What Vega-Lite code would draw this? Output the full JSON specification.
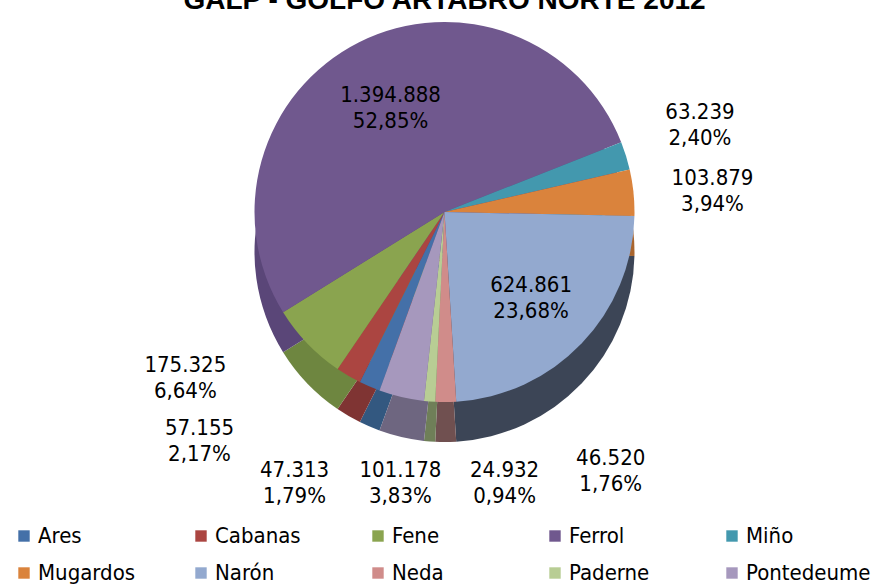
{
  "$schema": "https://vega.github.io/schema/vega-lite/v6.json",
  "width": 889,
  "height": 424,
  "autosize": {"type": "none"},
  "padding": {"top": 0, "left": 0, "right": 0, "bottom": 161},
  "background": "white",
  "title": {"text": "GALP - GOLFO ARTABRO NORTE 2012", "font": "Liberation Sans", "fontSize": 28, "fontWeight": "bold", "color": "#000000", "offset": -28, "anchor": "middle"},
  "config": {"view": {"stroke": null}},
  "data": {
    "values": [
      {"municipio": "Ares", "habitantes": 47313, "etiqueta": "47.313\n1,79%"},
      {"municipio": "Cabanas", "habitantes": 57155, "etiqueta": "57.155\n2,17%"},
      {"municipio": "Fene", "habitantes": 175325, "etiqueta": "175.325\n6,64%"},
      {"municipio": "Ferrol", "habitantes": 1394888, "etiqueta": "1.394.888\n52,85%"},
      {"municipio": "Miño", "habitantes": 63239, "etiqueta": "63.239\n2,40%"},
      {"municipio": "Mugardos", "habitantes": 103879, "etiqueta": "103.879\n3,94%"},
      {"municipio": "Narón", "habitantes": 624861, "etiqueta": "624.861\n23,68%"},
      {"municipio": "Neda", "habitantes": 46520, "etiqueta": "46.520\n1,76%"},
      {"municipio": "Paderne", "habitantes": 24932, "etiqueta": "24.932\n0,94%"},
      {"municipio": "Pontedeume", "habitantes": 101178, "etiqueta": "101.178\n3,83%"}
    ]
  },
  "encoding": {
    "theta": {"field": "habitantes", "type": "quantitative", "stack": true, "scale": {"range": [3.4907, 9.7739]}},
    "order": {"field": "municipio", "type": "ordinal", "sort": "ascending"}
  },
  "layer": [
    {
      "mark": {"type": "arc", "outerRadius": 190, "yOffset": 40, "stroke": null},
      "encoding": {
        "color": {"field": "municipio", "type": "nominal", "legend": null,
          "scale": {"domain": ["Ares", "Cabanas", "Fene", "Ferrol", "Miño", "Mugardos", "Narón", "Neda", "Paderne", "Pontedeume"],
                    "range": ["#335880", "#7F3433", "#6E8640", "#5A4678", "#337588", "#A9652E", "#3C4556", "#705050", "#6F7F58", "#6E6680"]}}
      }
    },
    {
      "mark": {"type": "arc", "outerRadius": 190, "stroke": null},
      "encoding": {
        "color": {"field": "municipio", "type": "nominal",
          "scale": {"domain": ["Ares", "Cabanas", "Fene", "Ferrol", "Miño", "Mugardos", "Narón", "Neda", "Paderne", "Pontedeume"],
                    "range": ["#4470A8", "#AB4541", "#8AA44F", "#70588E", "#4398AE", "#DA833C", "#93A9CF", "#D08C8A", "#B8CD94", "#A698BD"]},
          "legend": {"title": null, "orient": "bottom", "direction": "horizontal", "columns": 5, "offset": 88, "padding": 13,
                     "symbolType": "square", "symbolSize": 130, "symbolStrokeWidth": 0,
                     "labelFont": "DejaVu Sans Condensed", "labelFontSize": 22, "labelColor": "#000000", "labelLimit": 300,
                     "gridAlign": "all", "columnPadding": 27, "rowPadding": 15, "symbolOffset": 0, "labelOffset": 3}}
      }
    },
    {
      "mark": {"type": "text", "radius": 120, "font": "DejaVu Sans Condensed", "fontSize": 22, "lineBreak": "\n", "lineHeight": 26, "baseline": "middle", "align": "center", "dy": -10, "color": "#000000"},
      "encoding": {"text": {"condition": {"test": "datum.municipio === 'Ferrol' || datum.municipio === 'Narón'", "field": "etiqueta"}, "value": ""}}
    },
    {
      "mark": {"type": "text", "radius": 190, "dx": -122, "dy": 22, "font": "DejaVu Sans Condensed", "fontSize": 22, "lineBreak": "\n", "lineHeight": 26, "baseline": "middle", "align": "center", "color": "#000000"},
      "encoding": {"text": {"condition": {"test": "datum.municipio === 'Fene'", "field": "etiqueta"}, "value": ""}}
    },
    {
      "mark": {"type": "text", "radius": 190, "dx": -149, "dy": 52, "font": "DejaVu Sans Condensed", "fontSize": 22, "lineBreak": "\n", "lineHeight": 26, "baseline": "middle", "align": "center", "color": "#000000"},
      "encoding": {"text": {"condition": {"test": "datum.municipio === 'Cabanas'", "field": "etiqueta"}, "value": ""}}
    },
    {
      "mark": {"type": "text", "radius": 190, "dx": -75, "dy": 83, "font": "DejaVu Sans Condensed", "fontSize": 22, "lineBreak": "\n", "lineHeight": 26, "baseline": "middle", "align": "center", "color": "#000000"},
      "encoding": {"text": {"condition": {"test": "datum.municipio === 'Ares'", "field": "etiqueta"}, "value": ""}}
    },
    {
      "mark": {"type": "text", "radius": 190, "dx": -1, "dy": 73, "font": "DejaVu Sans Condensed", "fontSize": 22, "lineBreak": "\n", "lineHeight": 26, "baseline": "middle", "align": "center", "color": "#000000"},
      "encoding": {"text": {"condition": {"test": "datum.municipio === 'Pontedeume'", "field": "etiqueta"}, "value": ""}}
    },
    {
      "mark": {"type": "text", "radius": 190, "dx": 75, "dy": 69, "font": "DejaVu Sans Condensed", "fontSize": 22, "lineBreak": "\n", "lineHeight": 26, "baseline": "middle", "align": "center", "color": "#000000"},
      "encoding": {"text": {"condition": {"test": "datum.municipio === 'Paderne'", "field": "etiqueta"}, "value": ""}}
    },
    {
      "mark": {"type": "text", "radius": 190, "dx": 165, "dy": 56, "font": "DejaVu Sans Condensed", "fontSize": 22, "lineBreak": "\n", "lineHeight": 26, "baseline": "middle", "align": "center", "color": "#000000"},
      "encoding": {"text": {"condition": {"test": "datum.municipio === 'Neda'", "field": "etiqueta"}, "value": ""}}
    },
    {
      "mark": {"type": "text", "radius": 190, "dx": 74, "dy": -44, "font": "DejaVu Sans Condensed", "fontSize": 22, "lineBreak": "\n", "lineHeight": 26, "baseline": "middle", "align": "center", "color": "#000000"},
      "encoding": {"text": {"condition": {"test": "datum.municipio === 'Miño'", "field": "etiqueta"}, "value": ""}}
    },
    {
      "mark": {"type": "text", "radius": 190, "dx": 79, "dy": -15, "font": "DejaVu Sans Condensed", "fontSize": 22, "lineBreak": "\n", "lineHeight": 26, "baseline": "middle", "align": "center", "color": "#000000"},
      "encoding": {"text": {"condition": {"test": "datum.municipio === 'Mugardos'", "field": "etiqueta"}, "value": ""}}
    }
  ],
  "resolve": {"scale": {"color": "independent"}}
}
